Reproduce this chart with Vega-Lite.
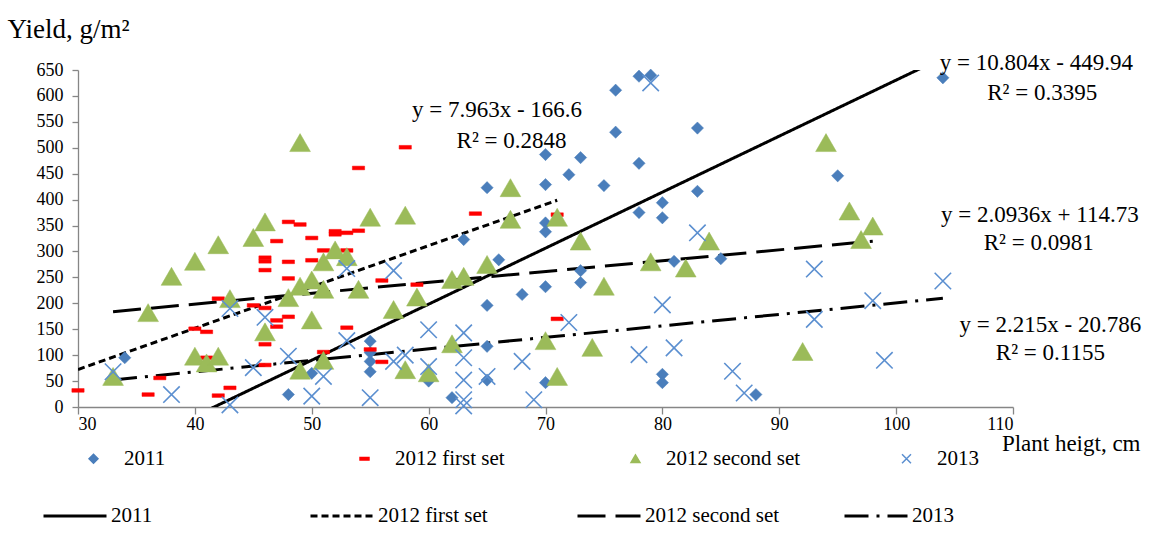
{
  "$schema": "https://vega.github.io/schema/vega-lite/v6.json",
  "width": 935,
  "height": 337,
  "autosize": "none",
  "padding": {"left": 78, "top": 70, "right": 144, "bottom": 143},
  "background": "white",
  "config": {
    "view": {"stroke": null},
    "font": "Liberation Serif",
    "axis": {"domainColor": "#868686", "tickColor": "#868686", "domainWidth": 1.3, "tickWidth": 1.3, "grid": false, "labelFont": "Liberation Serif", "labelColor": "#000", "titleFont": "Liberation Serif", "titleColor": "#000", "titleFontWeight": "normal"},
    "legend": {"labelFont": "Liberation Serif", "labelColor": "#000", "labelFontSize": 21}
  },
  "datasets": {
    "pts": [
      {"s":"2011","x":34,"y":95},{"s":"2011","x":48,"y":24},{"s":"2011","x":50,"y":65},{"s":"2011","x":55,"y":127},{"s":"2011","x":55,"y":105},{"s":"2011","x":55,"y":88},{"s":"2011","x":55,"y":68},{"s":"2011","x":60,"y":50},{"s":"2011","x":62,"y":18},{"s":"2011","x":63,"y":323},{"s":"2011","x":65,"y":423},{"s":"2011","x":65,"y":196},{"s":"2011","x":65,"y":117},{"s":"2011","x":65,"y":52},{"s":"2011","x":66,"y":284},{"s":"2011","x":68,"y":217},{"s":"2011","x":70,"y":487},{"s":"2011","x":70,"y":429},{"s":"2011","x":70,"y":355},{"s":"2011","x":70,"y":338},{"s":"2011","x":70,"y":232},{"s":"2011","x":70,"y":47},{"s":"2011","x":72,"y":448},{"s":"2011","x":73,"y":481},{"s":"2011","x":73,"y":263},{"s":"2011","x":73,"y":240},{"s":"2011","x":75,"y":427},{"s":"2011","x":76,"y":611},{"s":"2011","x":76,"y":530},{"s":"2011","x":78,"y":638},{"s":"2011","x":79,"y":640},{"s":"2011","x":78,"y":470},{"s":"2011","x":78,"y":375},{"s":"2011","x":80,"y":394},{"s":"2011","x":80,"y":365},{"s":"2011","x":80,"y":63},{"s":"2011","x":80,"y":47},{"s":"2011","x":81,"y":281},{"s":"2011","x":83,"y":538},{"s":"2011","x":83,"y":416},{"s":"2011","x":85,"y":286},{"s":"2011","x":88,"y":24},{"s":"2011","x":95,"y":446},{"s":"2011","x":104,"y":635},
      {"s":"2012 first set","x":30,"y":32},{"s":"2012 first set","x":36,"y":24},{"s":"2012 first set","x":37,"y":56},{"s":"2012 first set","x":40,"y":151},{"s":"2012 first set","x":41,"y":145},{"s":"2012 first set","x":41,"y":95},{"s":"2012 first set","x":42,"y":209},{"s":"2012 first set","x":42,"y":22},{"s":"2012 first set","x":43,"y":37},{"s":"2012 first set","x":45,"y":196},{"s":"2012 first set","x":46,"y":288},{"s":"2012 first set","x":46,"y":281},{"s":"2012 first set","x":46,"y":264},{"s":"2012 first set","x":46,"y":191},{"s":"2012 first set","x":46,"y":121},{"s":"2012 first set","x":46,"y":81},{"s":"2012 first set","x":47,"y":320},{"s":"2012 first set","x":47,"y":167},{"s":"2012 first set","x":47,"y":155},{"s":"2012 first set","x":48,"y":357},{"s":"2012 first set","x":48,"y":280},{"s":"2012 first set","x":48,"y":248},{"s":"2012 first set","x":48,"y":174},{"s":"2012 first set","x":49,"y":352},{"s":"2012 first set","x":50,"y":326},{"s":"2012 first set","x":50,"y":283},{"s":"2012 first set","x":51,"y":302},{"s":"2012 first set","x":51,"y":106},{"s":"2012 first set","x":52,"y":339},{"s":"2012 first set","x":52,"y":333},{"s":"2012 first set","x":53,"y":336},{"s":"2012 first set","x":53,"y":302},{"s":"2012 first set","x":53,"y":153},{"s":"2012 first set","x":54,"y":340},{"s":"2012 first set","x":54,"y":461},{"s":"2012 first set","x":55,"y":111},{"s":"2012 first set","x":56,"y":244},{"s":"2012 first set","x":56,"y":87},{"s":"2012 first set","x":58,"y":501},{"s":"2012 first set","x":59,"y":236},{"s":"2012 first set","x":64,"y":373},{"s":"2012 first set","x":71,"y":371},{"s":"2012 first set","x":71,"y":170},
      {"s":"2012 second set","x":33,"y":59},{"s":"2012 second set","x":36,"y":182},{"s":"2012 second set","x":38,"y":252},{"s":"2012 second set","x":40,"y":281},{"s":"2012 second set","x":42,"y":313},{"s":"2012 second set","x":40,"y":98},{"s":"2012 second set","x":41,"y":85},{"s":"2012 second set","x":42,"y":98},{"s":"2012 second set","x":43,"y":209},{"s":"2012 second set","x":45,"y":327},{"s":"2012 second set","x":46,"y":357},{"s":"2012 second set","x":46,"y":145},{"s":"2012 second set","x":48,"y":211},{"s":"2012 second set","x":49,"y":233},{"s":"2012 second set","x":49,"y":510},{"s":"2012 second set","x":49,"y":71},{"s":"2012 second set","x":50,"y":168},{"s":"2012 second set","x":50,"y":245},{"s":"2012 second set","x":51,"y":280},{"s":"2012 second set","x":51,"y":227},{"s":"2012 second set","x":51,"y":90},{"s":"2012 second set","x":52,"y":303},{"s":"2012 second set","x":53,"y":290},{"s":"2012 second set","x":54,"y":227},{"s":"2012 second set","x":55,"y":366},{"s":"2012 second set","x":57,"y":188},{"s":"2012 second set","x":58,"y":370},{"s":"2012 second set","x":58,"y":72},{"s":"2012 second set","x":59,"y":212},{"s":"2012 second set","x":60,"y":66},{"s":"2012 second set","x":62,"y":246},{"s":"2012 second set","x":62,"y":122},{"s":"2012 second set","x":63,"y":252},{"s":"2012 second set","x":65,"y":275},{"s":"2012 second set","x":67,"y":423},{"s":"2012 second set","x":67,"y":362},{"s":"2012 second set","x":70,"y":128},{"s":"2012 second set","x":71,"y":366},{"s":"2012 second set","x":71,"y":59},{"s":"2012 second set","x":73,"y":320},{"s":"2012 second set","x":74,"y":115},{"s":"2012 second set","x":75,"y":233},{"s":"2012 second set","x":79,"y":280},{"s":"2012 second set","x":82,"y":268},{"s":"2012 second set","x":84,"y":320},{"s":"2012 second set","x":92,"y":107},{"s":"2012 second set","x":94,"y":510},{"s":"2012 second set","x":96,"y":378},{"s":"2012 second set","x":97,"y":323},{"s":"2012 second set","x":98,"y":349},
      {"s":"2013","x":33,"y":68},{"s":"2013","x":38,"y":24},{"s":"2013","x":43,"y":190},{"s":"2013","x":43,"y":4},{"s":"2013","x":45,"y":76},{"s":"2013","x":46,"y":173},{"s":"2013","x":48,"y":98},{"s":"2013","x":50,"y":21},{"s":"2013","x":51,"y":59},{"s":"2013","x":53,"y":267},{"s":"2013","x":53,"y":128},{"s":"2013","x":55,"y":18},{"s":"2013","x":57,"y":263},{"s":"2013","x":57,"y":88},{"s":"2013","x":58,"y":100},{"s":"2013","x":60,"y":149},{"s":"2013","x":60,"y":78},{"s":"2013","x":63,"y":143},{"s":"2013","x":63,"y":95},{"s":"2013","x":63,"y":52},{"s":"2013","x":63,"y":14},{"s":"2013","x":63,"y":2},{"s":"2013","x":65,"y":59},{"s":"2013","x":68,"y":88},{"s":"2013","x":69,"y":14},{"s":"2013","x":72,"y":163},{"s":"2013","x":78,"y":101},{"s":"2013","x":79,"y":625},{"s":"2013","x":80,"y":197},{"s":"2013","x":81,"y":114},{"s":"2013","x":83,"y":336},{"s":"2013","x":86,"y":69},{"s":"2013","x":87,"y":27},{"s":"2013","x":93,"y":266},{"s":"2013","x":93,"y":169},{"s":"2013","x":98,"y":205},{"s":"2013","x":99,"y":90},{"s":"2013","x":104,"y":243}
    ],
    "trend": [
      {"t":"2011","x":34,"y":-82.6},{"t":"2011","x":104,"y":673.7},
      {"t":"2012 first set","x":30,"y":72.3},{"t":"2012 first set","x":71,"y":398.8},
      {"t":"2012  second set","x":33,"y":183.8},{"t":"2012  second set","x":98,"y":319.9},
      {"t":"2013","x":33,"y":52.3},{"t":"2013","x":104,"y":209.6}
    ],
    "eq": [
      {"x":65.85,"y":572,"label":"y = 7.963x - 166.6"},
      {"x":67.1,"y":513,"label":"R² = 0.2848"},
      {"x":112,"y":664,"label":"y = 10.804x - 449.94"},
      {"x":112.5,"y":606,"label":"R² = 0.3395"},
      {"x":112.3,"y":371,"label":"y = 2.0936x + 114.73"},
      {"x":112.2,"y":317,"label":"R² = 0.0981"},
      {"x":113.2,"y":159,"label":"y = 2.215x - 20.786"},
      {"x":113.2,"y":104,"label":"R² = 0.1155"}
    ]
  },
  "encoding": {
    "x": {"field": "x", "type": "quantitative", "scale": {"domain": [30, 110], "nice": false, "zero": false},
      "axis": {"values": [30,40,50,60,70,80,90,100,110], "title": "Plant heigt, cm", "titleX": 1062, "titleY": 36, "titleAlign": "right", "titleBaseline": "middle", "titleFont": "Liberation Serif", "titleFontSize": 23, "labelFont": "Liberation Serif", "labelFontSize": 18, "tickSize": 7, "labelPadding": 1}},
    "y": {"field": "y", "type": "quantitative", "scale": {"domain": [0, 650], "nice": false},
      "axis": {"values": [0,50,100,150,200,250,300,350,400,450,500,550,600,650], "title": "Yield, g/m²", "titleAngle": 0, "titleX": -71, "titleY": -41, "titleAlign": "left", "titleBaseline": "middle", "titleFont": "Liberation Serif", "titleFontSize": 27, "labelFont": "Liberation Serif", "labelFontSize": 18, "tickSize": 6, "labelPadding": 9}}
  },
  "layer": [
    {
      "data": {"name": "trend"},
      "mark": {"type": "line", "color": "black", "strokeWidth": 3, "clip": true},
      "encoding": {
        "strokeDash": {"field": "t", "type": "nominal",
          "scale": {"domain": ["2011", "2012 first set", "2012  second set", "2013"], "range": [[1,0],[7,4],[28,10],[24,8,3,8]]},
          "legend": {"orient": "none", "legendX": -36, "legendY": 413, "direction": "horizontal", "columns": 4, "gridAlign": "all", "columnPadding": 53, "title": null, "symbolType": "stroke", "symbolSize": 3969, "symbolStrokeWidth": 3, "symbolStrokeColor": "black", "labelOffset": 3, "labelFont": "Liberation Serif", "labelFontSize": 21}}
      }
    },
    {
      "data": {"name": "pts"},
      "transform": [{"filter": {"field": "s", "equal": "2011"}}],
      "mark": {"type": "point", "filled": true, "opacity": 1, "size": 150, "strokeWidth": 0.5},
      "encoding": {
        "fill": {"field": "s", "type": "nominal", "scale": {"range": ["#4A7EBB", "#FF0000", "#9BBB59", "#5B8FD0"]}, "legend": {"orient": "none", "legendX": 5, "legendY": 378, "direction": "horizontal", "columns": 4, "gridAlign": "all", "columnPadding": 95, "title": null, "symbolSize": 80, "symbolStrokeWidth": 1.5, "labelOffset": 20, "labelFont": "Liberation Serif", "labelFontSize": 21}},
        "stroke": {"field": "s", "type": "nominal", "scale": {"range": ["#4A7EBB", "#FF0000", "#9BBB59", "#5B8FD0"]}, "legend": {"orient": "none", "legendX": 5, "legendY": 378, "direction": "horizontal", "columns": 4, "gridAlign": "all", "columnPadding": 95, "title": null, "symbolSize": 80, "symbolStrokeWidth": 1.5, "labelOffset": 20, "labelFont": "Liberation Serif", "labelFontSize": 21}},
        "shape": {"field": "s", "type": "nominal", "scale": {"range": ["diamond", "M-1,-0.3L1,-0.3L1,0.3L-1,0.3Z", "triangle-up", "M-1,-1L1,1M-1,1L1,-1"]}, "legend": {"orient": "none", "legendX": 5, "legendY": 378, "direction": "horizontal", "columns": 4, "gridAlign": "all", "columnPadding": 95, "title": null, "symbolSize": 80, "symbolStrokeWidth": 1.5, "labelOffset": 20, "labelFont": "Liberation Serif", "labelFontSize": 21}}
      }
    },
    {
      "data": {"name": "pts"},
      "transform": [{"filter": {"field": "s", "equal": "2012 first set"}}],
      "mark": {"type": "point", "filled": true, "opacity": 1, "size": 150, "strokeWidth": 0.5},
      "encoding": {
        "fill": {"field": "s", "type": "nominal"},
        "stroke": {"field": "s", "type": "nominal"},
        "shape": {"field": "s", "type": "nominal"}
      }
    },
    {
      "data": {"name": "pts"},
      "transform": [{"filter": {"field": "s", "equal": "2012 second set"}}],
      "mark": {"type": "point", "filled": true, "opacity": 1, "size": 430, "strokeWidth": 0.5},
      "encoding": {
        "fill": {"field": "s", "type": "nominal"},
        "stroke": {"field": "s", "type": "nominal"},
        "shape": {"field": "s", "type": "nominal"}
      }
    },
    {
      "data": {"name": "pts"},
      "transform": [{"filter": {"field": "s", "equal": "2013"}}],
      "mark": {"type": "point", "filled": true, "opacity": 1, "size": 270, "strokeWidth": 1.6},
      "encoding": {
        "fill": {"field": "s", "type": "nominal"},
        "stroke": {"field": "s", "type": "nominal"},
        "shape": {"field": "s", "type": "nominal"}
      }
    },
    {
      "data": {"name": "eq"},
      "mark": {"type": "text", "font": "Liberation Serif", "fontSize": 23, "align": "center", "baseline": "middle", "color": "#000"},
      "encoding": {"text": {"field": "label", "type": "nominal"}}
    }
  ]
}
